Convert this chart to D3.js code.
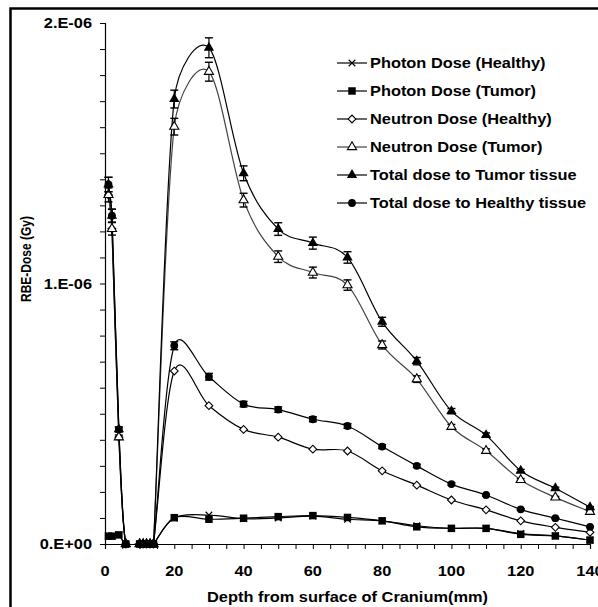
<!DOCTYPE html>
<html>
<head>
<meta charset="utf-8">
<script src="https://cdn.jsdelivr.net/npm/d3@7"></script>
<style>
  body { margin: 0; background: #fff; }
  svg { display: block; font-family: "Liberation Sans", Arial, sans-serif; font-weight: bold; }
</style>
</head>
<body>
<svg id="chart"></svg>
<script>
// depth from surface of cranium (mm)
var depth = [1, 2, 4, 6, 10, 11, 12, 13, 14, 20, 30, 40, 50, 60, 70, 80, 90, 100, 110, 120, 130, 140];

// RBE dose, in units of 1E-06 Gy
var photonHealthy  = [0.03, 0.03, 0.035, 0, 0, 0, 0, 0, 0, 0.100, 0.111, 0.097, 0.100, 0.107, 0.095, 0.089, 0.070, 0.060, 0.060, 0.040, 0.031, 0.015];
var photonTumor    = [0.03, 0.03, 0.035, 0, 0, 0, 0, 0, 0, 0.101, 0.095, 0.099, 0.105, 0.109, 0.102, 0.089, 0.066, 0.060, 0.060, 0.037, 0.031, 0.015];
var neutronHealthy = [1.34, 1.21, 0.41, 0, 0, 0, 0, 0, 0, 0.664, 0.531, 0.440, 0.410, 0.364, 0.357, 0.281, 0.226, 0.169, 0.131, 0.089, 0.064, 0.045];
var neutronTumor   = [1.34, 1.21, 0.41, 0, 0, 0, 0, 0, 0, 1.602, 1.813, 1.320, 1.103, 1.042, 0.994, 0.764, 0.633, 0.450, 0.358, 0.246, 0.179, 0.124];
var totalTumor     = [1.38, 1.26, 0.44, 0, 0, 0, 0, 0, 0, 1.708, 1.905, 1.423, 1.209, 1.155, 1.100, 0.853, 0.702, 0.510, 0.418, 0.281, 0.214, 0.141];
var totalHealthy   = [1.38, 1.26, 0.44, 0, 0, 0, 0, 0, 0, 0.761, 0.642, 0.537, 0.516, 0.479, 0.453, 0.374, 0.300, 0.230, 0.188, 0.133, 0.099, 0.066];

var errorPct = 0.02;   // percentage error bars

var seriesNames = ["Photon Dose (Healthy)", "Photon Dose (Tumor)", "Neutron Dose (Healthy)",
                   "Neutron Dose (Tumor)", "Total dose to Tumor tissue", "Total dose to Healthy tissue"];

var xTicks = [0, 20, 40, 60, 80, 100, 120, 140];
var yTicks = [0, 1, 2];
var yTickLabels = ["0.E+00", "1.E-06", "2.E-06"];

var xTitle = "Depth from surface of Cranium(mm)";
var yTitle = "RBE-Dose (Gy)";

// ---------------------------------------------------------------
var width = 598, height = 607;
var stretch = 1.17;   // the original text is a bit wider than tall

var svg = d3.select("#chart").attr("width", width).attr("height", height);

// outer frame
svg.append("rect")
    .attr("x", 10.5).attr("y", 8.5)
    .attr("width", 700).attr("height", 700)
    .attr("fill", "none").attr("stroke", "#000").attr("stroke-width", 2.5);

var x = d3.scaleLinear().domain([0, 140]).range([105, 590]);
var y = d3.scaleLinear().domain([0, 2]).range([544, 23]);

// axes
var xAxis = svg.append("g")
    .attr("transform", "translate(0,544)")
    .call(d3.axisBottom(x).tickValues(d3.range(0, 141, 5)).tickSize(5).tickFormat(""));
var yAxis = svg.append("g")
    .attr("transform", "translate(105,0)")
    .call(d3.axisLeft(y).tickValues(d3.range(0, 2.01, 0.1)).tickSize(5).tickFormat(""));
[xAxis, yAxis].forEach(function(a){
    a.select(".domain").attr("stroke", "#000").attr("stroke-width", 1.2);
    a.selectAll(".tick line").attr("stroke", "#000").attr("stroke-width", 1);
});

// stretched text helper
function label(g, tx, ty, str, size, anchor){
    var t = g.append("g")
        .attr("transform", "translate(" + tx + "," + ty + ") scale(" + stretch + ",1)");
    t.append("text")
        .attr("text-anchor", anchor)
        .attr("font-size", size)
        .attr("fill", "#000")
        .text(str);
    return t;
}

xTicks.forEach(function(v){
    label(svg, x(v), 576, String(v), 14, "middle");
});
yTicks.forEach(function(v, i){
    label(svg, 92, y(v) + 5, yTickLabels[i], 14, "end");
});
label(svg, 347.5, 602, xTitle, 14, "middle");
var yt = svg.append("g").attr("transform", "translate(31,259) scale(1.2,1) rotate(-90)");
yt.append("text").attr("text-anchor", "middle").attr("font-size", 12).text(yTitle);

// smoothing like the spreadsheet's "smoothed line": bezier handles of (P2-P0)/6,
// never longer than half of the segment
function curveSmooth(context){
    return {
        areaStart: function(){}, areaEnd: function(){},
        lineStart: function(){ this._p = []; },
        point: function(px, py){ this._p.push([+px, +py]); },
        lineEnd: function(){
            var p = this._p, n = p.length;
            if(!n) return;
            context.moveTo(p[0][0], p[0][1]);
            for(var i = 0; i < n - 1; i++){
                var p0 = p[i > 0 ? i - 1 : i], p1 = p[i], p2 = p[i + 1], p3 = p[i + 2 < n ? i + 2 : i + 1];
                var half = Math.hypot(p2[0] - p1[0], p2[1] - p1[1]) / 2;
                var a = [(p2[0] - p0[0]) / 6, (p2[1] - p0[1]) / 6];
                var b = [(p3[0] - p1[0]) / 6, (p3[1] - p1[1]) / 6];
                var la = Math.hypot(a[0], a[1]), lb = Math.hypot(b[0], b[1]);
                if(la > half){ a = [a[0] * half / la, a[1] * half / la]; }
                if(lb > half){ b = [b[0] * half / lb, b[1] * half / lb]; }
                context.bezierCurveTo(p1[0] + a[0], p1[1] + a[1], p2[0] - b[0], p2[1] - b[1], p2[0], p2[1]);
            }
        }
    };
}

// series
var allSeries = [
    {name: seriesNames[0], values: photonHealthy,  marker: "x",        stroke: "#000", err: false},
    {name: seriesNames[1], values: photonTumor,    marker: "square",   stroke: "#000", err: false},
    {name: seriesNames[2], values: neutronHealthy, marker: "diamond",  stroke: "#000", err: false},
    {name: seriesNames[3], values: neutronTumor,   marker: "triangleO", stroke: "#444", err: true},
    {name: seriesNames[4], values: totalTumor,     marker: "triangle", stroke: "#000", err: true},
    {name: seriesNames[5], values: totalHealthy,   marker: "circle",   stroke: "#000", err: true}
];

function drawMarker(g, type, cx, cy){
    var m;
    if(type == "x"){
        m = g.append("path").attr("d", d3.symbol(d3.symbolX, 30)())
            .attr("fill", "none").attr("stroke", "#000").attr("stroke-width", 1.2);
    } else if(type == "square"){
        m = g.append("path").attr("d", d3.symbol(d3.symbolSquare, 56)()).attr("fill", "#000");
    } else if(type == "diamond"){
        m = g.append("path").attr("d", d3.symbol(d3.symbolSquare, 30)())
            .attr("fill", "#fff").attr("stroke", "#000").attr("stroke-width", 1.1);
        m.attr("transform", "translate(" + cx + "," + cy + ") rotate(45)");
        return m;
    } else if(type == "triangleO"){
        m = g.append("path").attr("d", d3.symbol(d3.symbolTriangle, 36)())
            .attr("fill", "#fff").attr("stroke", "#000").attr("stroke-width", 1.1);
    } else if(type == "triangle"){
        m = g.append("path").attr("d", d3.symbol(d3.symbolTriangle, 46)()).attr("fill", "#000");
    } else {
        m = g.append("path").attr("d", d3.symbol(d3.symbolCircle, 48)()).attr("fill", "#000");
    }
    m.attr("transform", "translate(" + cx + "," + cy + ")");
    return m;
}

svg.append("clipPath").attr("id", "plotclip")
    .append("rect").attr("x", 100).attr("y", 0).attr("width", 500).attr("height", 544.5);

var line = d3.line()
    .curve(curveSmooth)
    .x(function(d, i) { return x(depth[i]); })
    .y(function(d) { return y(d); });

var plot = svg.append("g");
allSeries.forEach(function(s){
    plot.append("path")
        .datum(s.values)
        .attr("d", line)
        .attr("clip-path", "url(#plotclip)")
        .attr("fill", "none")
        .attr("stroke", s.stroke)
        .attr("stroke-width", 1.2);
});

allSeries.forEach(function(s){
    var g = plot.append("g");
    s.values.forEach(function(v, i){
        var cx = x(depth[i]), cy = y(v);
        if(s.err && v > 0){
            var e = v * errorPct;
            var y0 = y(v - e), y1 = y(v + e);
            g.append("line").attr("x1", cx).attr("x2", cx).attr("y1", y0).attr("y2", y1)
                .attr("stroke", "#000").attr("stroke-width", 1.2);
            [y0, y1].forEach(function(yy){
                g.append("line").attr("x1", cx - 4).attr("x2", cx + 4).attr("y1", yy).attr("y2", yy)
                    .attr("stroke", "#000").attr("stroke-width", 1.4);
            });
        }
        drawMarker(g, s.marker, cx, cy);
    });
});

// legend
var legend = svg.append("g");
allSeries.forEach(function(s, i){
    var ly = 63 + i * 28;
    legend.append("line").attr("x1", 337).attr("x2", 367).attr("y1", ly).attr("y2", ly)
        .attr("stroke", s.stroke).attr("stroke-width", 1.2);
    drawMarker(legend, s.marker, 352, ly);
    label(legend, 370, ly + 5, s.name, 14, "start");
});
</script>
</body>
</html>
